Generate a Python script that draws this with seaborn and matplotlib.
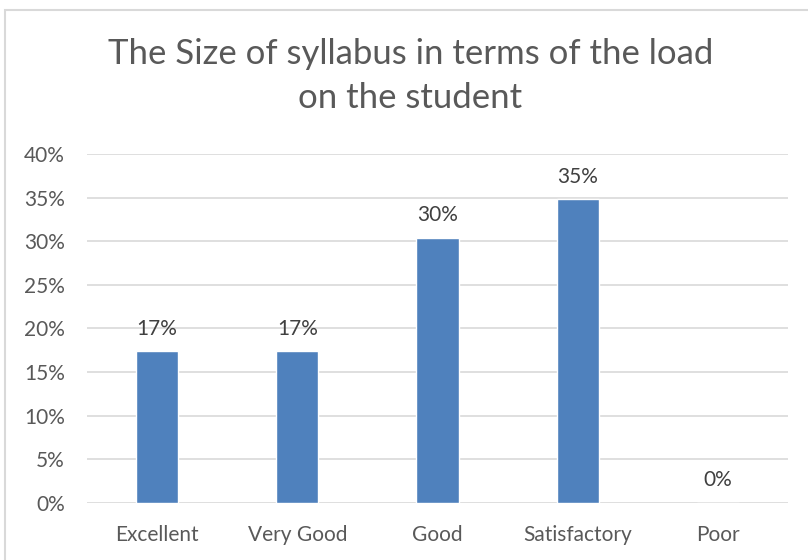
import matplotlib
matplotlib.use('Agg')
import matplotlib.pyplot as plt
import matplotlib.patches as mpatches
from matplotlib.ticker import PercentFormatter
import pandas as pd
import seaborn as sns

categories = ['Excellent', 'Very Good', 'Good', 'Satisfactory', 'Poor']
shares = [0.174, 0.174, 0.304, 0.348, 0.0]
value_labels = ['17%', '17%', '30%', '35%', '0%']
title = 'The Size of syllabus in terms of the load\non the student'

sns.set_theme(style='white')
plt.rcParams['font.family'] = ['Lato', 'DejaVu Sans']

df = pd.DataFrame({'category': categories, 'share': shares})

fig = plt.figure(figsize=(8.08, 5.6), dpi=100)
ax = fig.add_axes([0.1077, 0.1018, 0.8675, 0.6232])

sns.barplot(data=df, x='category', y='share', color='#4F81BD', width=0.3,
            saturation=1, ax=ax, zorder=3)

ax.set_ylim(0, 0.40)
ax.set_xlim(-0.5, 4.5)
ax.set_yticks([i * 0.05 for i in range(9)])
ax.yaxis.set_major_formatter(PercentFormatter(1.0, decimals=0))
ax.grid(axis='y', color='#D9D9D9', lw=1.2, zorder=0)
for s in ax.spines.values():
    s.set_visible(False)
ax.set_xlabel('')
ax.set_ylabel('')
ax.tick_params(axis='both', length=0, labelsize=15, colors='#595959')
ax.tick_params(axis='x', pad=16)
ax.tick_params(axis='y', pad=16)

for i, (v, lab) in enumerate(zip(shares, value_labels)):
    ax.annotate(lab, (i, v), xytext=(0, 9), textcoords='offset points',
                ha='center', va='bottom', fontsize=15, color='#404040')

fig.text(0.508, 0.864, title, ha='center', va='center', fontsize=25,
         color='#595959', linespacing=1.45)

# chart frame
fig.patches.append(mpatches.Rectangle((5 / 808, -0.1), 1.2, 1 - 10 / 560 + 0.1,
                                      transform=fig.transFigure, fill=False,
                                      edgecolor='#D9D9D9', lw=1.5))

fig.savefig('out.png', dpi=100)
